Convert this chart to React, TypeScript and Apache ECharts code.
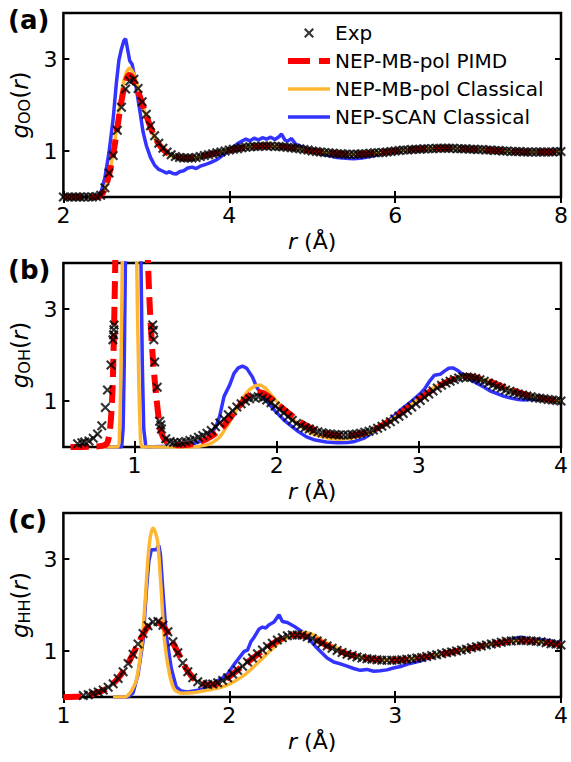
import React, { useEffect, useRef } from "react";
import * as echarts from "echarts";

const FONT = '"DejaVu Sans", "Liberation Sans", sans-serif';
const NAMES = ["Exp", "NEP-MB-pol PIMD", "NEP-MB-pol Classical", "NEP-SCAN Classical"];
const RED = "#ff0000";
const ORANGE = "#ffb733";
const BLUE = "#3333ff";
const CROSS = "path://M0,1.5L1.5,0L5,3.5L8.5,0L10,1.5L6.5,5L10,8.5L8.5,10L5,6.5L1.5,10L0,8.5L3.5,5Z";
const ICON_DASH = "path://M0,0h22v6h-22zM31,0h11v6h-11z";
const ICON_SOLID = "path://M0,0h42v3.5h-42z";

type P = [number, number][];

// ---------- Panel (a): g_OO ----------
const expOOStart = 2.0;
const expOOStep = 0.05;
const expOO = [
  0, 0, 0, 0, 0, 0, 0, 0, 0.01, 0.04,
  0.2, 0.52, 0.9, 1.45, 1.95, 2.35, 2.52, 2.56, 2.36, 2.07,
  1.8, 1.55, 1.33, 1.17, 1.06, 0.98, 0.92, 0.88, 0.86, 0.85,
  0.85, 0.85, 0.86, 0.88, 0.9, 0.92, 0.94, 0.96, 0.98, 1.0,
  1.02, 1.04, 1.05, 1.07, 1.08, 1.09, 1.1, 1.1, 1.11, 1.11,
  1.11, 1.1, 1.1, 1.09, 1.08, 1.07, 1.06, 1.05, 1.03, 1.02,
  1.0, 0.99, 0.98, 0.97, 0.96, 0.95, 0.94, 0.94, 0.93, 0.93,
  0.93, 0.93, 0.94, 0.94, 0.95, 0.96, 0.96, 0.97, 0.98, 0.99,
  1.0, 1.01, 1.02, 1.02, 1.03, 1.04, 1.04, 1.05, 1.05, 1.05,
  1.06, 1.06, 1.06, 1.06, 1.06, 1.05, 1.05, 1.05, 1.04, 1.04,
  1.03, 1.03, 1.02, 1.02, 1.01, 1.01, 1.0, 1.0, 0.99, 0.99,
  0.99, 0.98, 0.98, 0.98, 0.98, 0.98, 0.98, 0.98, 0.98, 0.99,
  0.99,
];
const pimdOO: P = [
  [2.0, 0], [2.4, 0], [2.45, 0.03], [2.5, 0.17], [2.55, 0.48], [2.6, 0.92], [2.65, 1.5], [2.7, 2.08],
  [2.75, 2.5], [2.79, 2.65], [2.83, 2.6], [2.87, 2.44], [2.9, 2.3], [2.95, 2.03], [3.0, 1.77], [3.05, 1.52],
  [3.1, 1.31], [3.15, 1.15], [3.2, 1.04], [3.25, 0.96], [3.3, 0.91], [3.4, 0.86], [3.5, 0.85], [3.6, 0.86],
  [3.7, 0.9], [3.8, 0.94], [3.9, 0.98], [4.0, 1.02], [4.2, 1.08], [4.4, 1.11], [4.6, 1.1], [4.8, 1.06],
  [5.0, 1.0], [5.2, 0.96], [5.4, 0.93], [5.6, 0.93], [5.8, 0.96], [6.0, 1.0], [6.2, 1.03], [6.4, 1.05],
  [6.6, 1.06], [6.8, 1.05], [7.0, 1.03], [7.2, 1.01], [7.4, 0.99], [7.6, 0.98], [7.8, 0.98], [8.0, 0.99],
];
const clsOO: P = [
  [2.3, 0], [2.4, 0], [2.45, 0.03], [2.5, 0.16], [2.55, 0.48], [2.6, 0.95], [2.65, 1.6], [2.7, 2.25],
  [2.75, 2.66], [2.8, 2.8], [2.84, 2.7], [2.88, 2.5], [2.92, 2.25], [2.96, 1.98], [3.0, 1.75], [3.05, 1.49],
  [3.1, 1.28], [3.15, 1.12], [3.2, 1.01], [3.25, 0.94], [3.3, 0.89], [3.4, 0.84], [3.5, 0.83], [3.6, 0.85],
  [3.7, 0.89], [3.8, 0.94], [3.9, 0.98], [4.0, 1.02], [4.2, 1.08], [4.4, 1.11], [4.6, 1.1], [4.8, 1.06],
  [5.0, 1.0], [5.2, 0.96], [5.4, 0.93], [5.6, 0.93], [5.8, 0.96], [6.0, 1.0], [6.2, 1.03], [6.4, 1.05],
  [6.6, 1.06], [6.8, 1.05], [7.0, 1.03], [7.2, 1.01], [7.4, 0.99], [7.6, 0.98], [7.8, 0.98], [8.0, 0.99],
];
const scanOO: P = [
  [2.3, 0], [2.38, 0], [2.42, 0.03], [2.46, 0.14], [2.5, 0.42], [2.55, 0.97], [2.6, 1.7], [2.64, 2.5],
  [2.67, 2.98], [2.7, 3.22], [2.73, 3.4], [2.75, 3.44], [2.77, 3.25], [2.8, 2.96], [2.83, 2.88], [2.86, 2.58],
  [2.9, 2.12], [2.93, 1.78], [2.96, 1.42], [3.0, 1.12], [3.05, 0.86], [3.1, 0.69], [3.15, 0.6], [3.2, 0.56],
  [3.24, 0.52], [3.28, 0.55], [3.32, 0.51], [3.36, 0.5], [3.4, 0.55], [3.45, 0.57], [3.5, 0.63], [3.55, 0.65],
  [3.6, 0.62], [3.65, 0.67], [3.7, 0.7], [3.75, 0.73], [3.8, 0.77], [3.85, 0.81], [3.9, 0.88], [3.95, 0.95],
  [4.0, 1.01], [4.05, 1.08], [4.1, 1.16], [4.15, 1.21], [4.2, 1.26], [4.25, 1.22], [4.3, 1.28], [4.35, 1.24],
  [4.4, 1.29], [4.45, 1.26], [4.5, 1.3], [4.55, 1.25], [4.6, 1.31], [4.63, 1.37], [4.67, 1.24], [4.7, 1.21],
  [4.75, 1.27], [4.8, 1.15], [4.9, 1.07], [5.0, 1.0], [5.1, 0.94], [5.2, 0.9], [5.3, 0.86], [5.4, 0.84],
  [5.5, 0.83], [5.6, 0.85], [5.7, 0.88], [5.8, 0.93], [5.9, 0.97], [6.0, 1.0], [6.2, 1.03], [6.4, 1.05],
  [6.6, 1.06], [6.8, 1.05], [7.0, 1.03], [7.2, 1.01], [7.4, 0.99], [7.6, 0.98], [7.8, 0.98], [8.0, 0.99],
];

// ---------- Panel (b): g_OH ----------
const expOHPeak: P = [
  [0.6, 0.07], [0.63, 0.09], [0.65, 0.11], [0.68, 0.13], [0.71, 0.19], [0.74, 0.28], [0.77, 0.46],
  [0.795, 0.86], [0.81, 1.24], [0.835, 1.78], [0.848, 2.33], [0.853, 2.44], [0.855, 2.55], [0.857, 2.65],
  [1.128, 2.65], [1.133, 2.54], [1.136, 2.33], [1.142, 1.85], [1.16, 1.3], [1.177, 0.56], [1.185, 0.48],
  [1.19, 0.39], [1.22, 0.18], [1.25, 0.12], [1.275, 0.1],
];
const expOHStart = 1.3;
const expOHStep = 0.03;
const expOH = [
  0.09, 0.1, 0.12, 0.14, 0.17, 0.21, 0.25, 0.3, 0.36, 0.44,
  0.52, 0.61, 0.7, 0.79, 0.87, 0.94, 1.0, 1.05, 1.08, 1.09,
  1.06, 1.02, 0.96, 0.89, 0.81, 0.74, 0.66, 0.58, 0.51, 0.46,
  0.42, 0.39, 0.36, 0.33, 0.31, 0.29, 0.28, 0.27, 0.26, 0.26,
  0.26, 0.27, 0.28, 0.3, 0.32, 0.34, 0.37, 0.41, 0.45, 0.5,
  0.55, 0.61, 0.67, 0.73, 0.8, 0.87, 0.94, 1.01, 1.08, 1.15,
  1.22, 1.28, 1.34, 1.39, 1.43, 1.47, 1.5, 1.52, 1.52, 1.51,
  1.49, 1.46, 1.43, 1.39, 1.35, 1.31, 1.28, 1.24, 1.21, 1.18,
  1.15, 1.13, 1.11, 1.09, 1.07, 1.06, 1.05, 1.03, 1.02, 1.01,
  1.0,
];
const pimdOH: P = [
  [0.55, 0], [0.7, 0.01], [0.78, 0.03], [0.81, 0.1], [0.83, 0.45], [0.845, 1.2], [0.855, 2.4], [0.862, 3.5],
  [0.87, 4.8], [0.9, 8], [0.98, 10], [1.05, 8], [1.08, 5.4], [1.095, 4.0], [1.11, 2.9], [1.13, 1.9],
  [1.155, 1.05], [1.18, 0.42], [1.2, 0.22], [1.23, 0.1], [1.27, 0.05], [1.3, 0.04], [1.4, 0.06], [1.5, 0.16],
  [1.6, 0.37], [1.7, 0.74], [1.75, 0.94], [1.8, 1.1], [1.85, 1.2], [1.9, 1.18], [1.95, 1.08], [2.0, 0.95],
  [2.1, 0.7], [2.2, 0.48], [2.3, 0.33], [2.4, 0.26], [2.5, 0.25], [2.6, 0.29], [2.7, 0.4], [2.8, 0.58],
  [2.9, 0.8], [3.0, 1.03], [3.1, 1.25], [3.2, 1.42], [3.3, 1.52], [3.35, 1.53], [3.4, 1.51], [3.5, 1.42],
  [3.6, 1.3], [3.7, 1.19], [3.8, 1.1], [3.9, 1.04], [4.0, 1.0],
];
const clsOH: P = [
  [0.8, 0], [0.88, 0], [0.895, 0.4], [0.905, 1.8], [0.915, 4.2], [0.94, 12], [0.965, 18], [0.99, 12],
  [1.015, 4.2], [1.028, 1.8], [1.04, 0.4], [1.055, 0], [1.4, 0], [1.5, 0.04], [1.55, 0.1], [1.6, 0.22],
  [1.65, 0.45], [1.7, 0.72], [1.75, 1.0], [1.8, 1.22], [1.85, 1.33], [1.88, 1.35], [1.92, 1.28], [1.96, 1.14],
  [2.0, 0.99], [2.06, 0.78], [2.1, 0.65], [2.15, 0.5], [2.2, 0.38], [2.27, 0.27], [2.35, 0.2], [2.43, 0.17],
  [2.5, 0.18], [2.57, 0.22], [2.65, 0.3], [2.7, 0.37], [2.8, 0.57], [2.9, 0.8], [3.0, 1.05], [3.1, 1.28],
  [3.2, 1.45], [3.3, 1.54], [3.35, 1.55], [3.4, 1.52], [3.5, 1.42], [3.6, 1.3], [3.7, 1.19], [3.8, 1.1],
  [3.9, 1.04], [4.0, 1.0],
];
const scanOH: P = [
  [0.8, 0], [0.91, 0], [0.92, 0.4], [0.928, 1.8], [0.937, 4.2], [0.96, 12], [0.99, 18], [1.02, 12],
  [1.045, 4.2], [1.055, 1.8], [1.065, 0.4], [1.08, 0], [1.3, 0.02], [1.4, 0.06], [1.5, 0.16], [1.55, 0.33],
  [1.58, 0.5], [1.6, 0.68], [1.63, 1.1], [1.67, 1.35], [1.7, 1.6], [1.73, 1.72], [1.76, 1.76], [1.79, 1.71],
  [1.83, 1.52], [1.86, 1.3], [1.91, 1.07], [1.99, 0.78], [2.06, 0.56], [2.15, 0.34], [2.21, 0.22], [2.27, 0.15],
  [2.35, 0.11], [2.43, 0.09], [2.5, 0.1], [2.55, 0.12], [2.62, 0.2], [2.69, 0.34], [2.78, 0.56], [2.87, 0.8],
  [2.95, 1.0], [3.01, 1.16], [3.04, 1.26], [3.08, 1.45], [3.11, 1.56], [3.15, 1.58], [3.18, 1.65], [3.21, 1.71],
  [3.24, 1.72], [3.27, 1.67], [3.32, 1.55], [3.36, 1.47], [3.4, 1.4], [3.46, 1.3], [3.5, 1.22], [3.55, 1.16],
  [3.6, 1.1], [3.64, 1.07], [3.7, 1.03], [3.74, 1.02], [3.8, 1.04], [3.9, 1.03], [4.0, 1.0],
];

// ---------- Panel (c): g_HH ----------
const expHHStart = 1.12;
const expHHStep = 0.03;
const expHH = [
  0.03, 0.05, 0.08, 0.11, 0.15, 0.21, 0.29, 0.4, 0.55, 0.73,
  0.93, 1.15, 1.38, 1.55, 1.63, 1.64, 1.56, 1.42, 1.2, 0.96,
  0.74, 0.55, 0.42, 0.33, 0.28, 0.27, 0.28, 0.31, 0.36, 0.42,
  0.5, 0.58, 0.67, 0.76, 0.85, 0.94, 1.02, 1.1, 1.17, 1.24,
  1.29, 1.33, 1.35, 1.35, 1.34, 1.31, 1.27, 1.22, 1.17, 1.11,
  1.06, 1.01, 0.97, 0.93, 0.9, 0.87, 0.85, 0.83, 0.82, 0.81,
  0.8, 0.8, 0.8, 0.8, 0.81, 0.82, 0.83, 0.85, 0.86, 0.88,
  0.9, 0.92, 0.94, 0.96, 0.98, 1.0, 1.02, 1.04, 1.07, 1.09,
  1.11, 1.13, 1.15, 1.17, 1.19, 1.21, 1.22, 1.23, 1.23, 1.23,
  1.22, 1.21, 1.2, 1.18, 1.16, 1.15, 1.13,
];
const pimdHH: P = [
  [1.0, 0], [1.1, 0.01], [1.15, 0.04], [1.2, 0.09], [1.25, 0.16], [1.3, 0.29], [1.35, 0.5], [1.4, 0.8],
  [1.45, 1.15], [1.5, 1.48], [1.53, 1.6], [1.56, 1.63], [1.59, 1.58], [1.62, 1.45], [1.66, 1.18], [1.7, 0.9],
  [1.75, 0.56], [1.8, 0.36], [1.85, 0.28], [1.9, 0.27], [1.95, 0.32], [2.0, 0.44], [2.1, 0.73], [2.2, 1.0],
  [2.3, 1.24], [2.4, 1.35], [2.5, 1.28], [2.6, 1.1], [2.7, 0.95], [2.8, 0.86], [2.9, 0.81], [3.0, 0.8],
  [3.2, 0.88], [3.4, 1.02], [3.6, 1.16], [3.75, 1.23], [3.9, 1.19], [4.0, 1.13],
];
const clsHH: P = [
  [1.3, 0], [1.37, 0], [1.4, 0.08], [1.42, 0.2], [1.44, 0.36], [1.47, 1.07], [1.49, 1.93], [1.51, 3.02],
  [1.525, 3.5], [1.54, 3.67], [1.552, 3.6], [1.569, 3.36], [1.59, 2.3], [1.61, 1.21], [1.64, 0.49], [1.67, 0.16],
  [1.72, 0.08], [1.78, 0.09], [1.84, 0.13], [1.9, 0.17], [1.98, 0.25], [2.04, 0.36], [2.1, 0.5], [2.2, 0.84],
  [2.3, 1.18], [2.4, 1.37], [2.45, 1.4], [2.5, 1.36], [2.6, 1.15], [2.7, 0.98], [2.8, 0.87], [2.9, 0.82],
  [3.0, 0.8], [3.2, 0.88], [3.4, 1.02], [3.6, 1.16], [3.75, 1.23], [3.9, 1.19], [4.0, 1.13],
];
const scanHH: P = [
  [1.3, 0], [1.39, 0], [1.42, 0.09], [1.45, 0.49], [1.48, 1.21], [1.5, 2.3], [1.515, 2.95], [1.53, 3.2],
  [1.56, 3.2], [1.575, 3.3], [1.585, 3.1], [1.6, 2.3], [1.62, 1.35], [1.65, 0.63], [1.68, 0.22], [1.71, 0.13],
  [1.75, 0.11], [1.82, 0.15], [1.87, 0.22], [1.92, 0.33], [1.96, 0.42], [1.99, 0.5], [2.02, 0.66], [2.04, 0.76],
  [2.07, 0.9], [2.09, 0.99], [2.11, 1.02], [2.13, 1.2], [2.15, 1.3], [2.18, 1.48], [2.2, 1.52], [2.22, 1.5],
  [2.24, 1.57], [2.27, 1.63], [2.3, 1.79], [2.32, 1.64], [2.35, 1.62], [2.39, 1.54], [2.43, 1.44], [2.46, 1.36],
  [2.49, 1.22], [2.52, 1.1], [2.55, 0.99], [2.59, 0.85], [2.63, 0.76], [2.67, 0.72], [2.71, 0.67], [2.75, 0.62],
  [2.79, 0.58], [2.83, 0.6], [2.87, 0.56], [2.91, 0.57], [2.95, 0.59], [2.99, 0.63], [3.04, 0.67], [3.09, 0.73],
  [3.15, 0.78], [3.2, 0.85], [3.25, 0.9], [3.3, 0.95], [3.4, 1.02], [3.49, 1.09], [3.55, 1.12], [3.6, 1.17],
  [3.65, 1.2], [3.69, 1.24], [3.73, 1.28], [3.76, 1.3], [3.8, 1.26], [3.85, 1.25], [3.9, 1.24], [3.95, 1.21],
  [4.0, 1.17],
];

// tick values
const yTicks = [1, 3];
const xTicksA = [2, 4, 6, 8];
const xTicksB = [1, 2, 3, 4];
const xTicksC = [1, 2, 3, 4];

const onGrid = (start: number, step: number, vals: number[]): P =>
  vals.map((v, i) => [+(start + i * step).toFixed(3), v] as [number, number]);

const panels = [
  {
    label: "(a)", sub: "OO", top: 13, xmin: 2, xmax: 8, xticks: xTicksA,
    exp: onGrid(expOOStart, expOOStep, expOO), pimd: pimdOO, cls: clsOO, scan: scanOO,
  },
  {
    label: "(b)", sub: "OH", top: 263, xmin: 0.5, xmax: 4, xticks: xTicksB,
    exp: [...expOHPeak, ...onGrid(expOHStart, expOHStep, expOH)], pimd: pimdOH, cls: clsOH, scan: scanOH,
  },
  {
    label: "(c)", sub: "HH", top: 513, xmin: 1, xmax: 4, xticks: xTicksC,
    exp: onGrid(expHHStart, expHHStep, expHH), pimd: pimdHH, cls: clsHH, scan: scanHH,
  },
];

const GRID_LEFT = 63;
const GRID_W = 502;
const GRID_H = 184;

const tickStyle = (vals: number[]) => ({
  show: true, inside: true, length: 6, customValues: vals,
  lineStyle: { color: "#000", width: 2 },
});

function buildOption() {
  const grid: any[] = [];
  const xAxis: any[] = [];
  const yAxis: any[] = [];
  const series: any[] = [];
  const graphic: any[] = [];

  panels.forEach((p, i) => {
    grid.push({
      left: GRID_LEFT, top: p.top, width: GRID_W, height: GRID_H,
      show: true, borderColor: "#000", borderWidth: 2.5, backgroundColor: "transparent",
    });
    xAxis.push({
      type: "value", gridIndex: i, min: p.xmin, max: p.xmax, position: "bottom",
      axisLine: { show: false }, splitLine: { show: false },
      axisTick: tickStyle(p.xticks),
      axisLabel: { customValues: p.xticks, fontSize: 22, fontFamily: FONT, color: "#000", margin: 7 },
      name: "{i|r}{n| (Å)}", nameLocation: "middle", nameGap: 33,
      nameTextStyle: {
        rich: {
          i: { fontStyle: "italic", fontSize: 22, fontFamily: FONT, color: "#000" },
          n: { fontSize: 22, fontFamily: FONT, color: "#000" },
        },
      },
    });
    xAxis.push({
      type: "value", gridIndex: i, min: p.xmin, max: p.xmax, position: "top",
      axisLine: { show: false }, splitLine: { show: false },
      axisTick: tickStyle(p.xticks), axisLabel: { show: false },
    });
    yAxis.push({
      type: "value", gridIndex: i, min: 0, max: 4, position: "left",
      axisLine: { show: false }, splitLine: { show: false },
      axisTick: tickStyle(yTicks),
      axisLabel: { customValues: yTicks, fontSize: 22, fontFamily: FONT, color: "#000", margin: 6 },
      name: `{i|g}{s|${p.sub}}{n|(}{i|r}{n|)}`, nameLocation: "middle", nameGap: 24, nameRotate: 90,
      nameTextStyle: {
        rich: {
          i: { fontStyle: "italic", fontSize: 23, fontFamily: FONT, color: "#000", lineHeight: 26, verticalAlign: "middle" },
          n: { fontSize: 23, fontFamily: FONT, color: "#000", lineHeight: 26, verticalAlign: "middle" },
          s: { fontSize: 16, fontFamily: FONT, color: "#000", lineHeight: 16, verticalAlign: "bottom" },
        },
      },
    });
    yAxis.push({
      type: "value", gridIndex: i, min: 0, max: 4, position: "right",
      axisLine: { show: false }, splitLine: { show: false },
      axisTick: tickStyle(yTicks), axisLabel: { show: false },
    });

    const xi = i * 2;
    const yi = i * 2;
    series.push({
      name: NAMES[3], type: "line", xAxisIndex: xi, yAxisIndex: yi, data: p.scan,
      symbol: "none", showSymbol: false, smooth: false, clip: true,
      lineStyle: { color: BLUE, width: 3.5 }, itemStyle: { color: BLUE }, z: 2,
    });
    series.push({
      name: NAMES[2], type: "line", xAxisIndex: xi, yAxisIndex: yi, data: p.cls,
      symbol: "none", showSymbol: false, smooth: 0.3, clip: true,
      lineStyle: { color: ORANGE, width: 3.5 }, itemStyle: { color: ORANGE }, z: 3,
    });
    series.push({
      name: NAMES[1], type: "line", xAxisIndex: xi, yAxisIndex: yi, data: p.pimd,
      symbol: "none", showSymbol: false, smooth: 0.3, clip: true,
      lineStyle: { color: RED, width: 6, type: [18, 8] }, itemStyle: { color: RED }, z: 4,
    });
    series.push({
      name: NAMES[0], type: "scatter", xAxisIndex: xi, yAxisIndex: yi, data: p.exp,
      symbol: CROSS, symbolSize: 10, symbolKeepAspect: true, clip: true,
      itemStyle: { color: "#000" }, z: 5,
    });

    graphic.push({
      type: "text", left: 8, top: p.top - 6,
      style: { text: p.label, fontSize: 26, fontWeight: "bold", fontFamily: FONT, fill: "#000" },
    });
  });

  return {
    animation: false,
    backgroundColor: "#fff",
    grid, xAxis, yAxis, series, graphic,
    legend: {
      show: true, orient: "vertical", left: 283, top: 18,
      itemWidth: 42, itemHeight: 10, itemGap: 8, selectedMode: false, symbolKeepAspect: true,
      data: [
        { name: NAMES[0], icon: CROSS },
        { name: NAMES[1], icon: ICON_DASH },
        { name: NAMES[2], icon: ICON_SOLID },
        { name: NAMES[3], icon: ICON_SOLID },
      ],
      textStyle: { fontFamily: FONT, fontSize: 20, color: "#000", padding: [0, 0, 0, 0] },
    },
  };
}

export default function App() {
  const ref = useRef<HTMLDivElement>(null);
  useEffect(() => {
    document.body.style.margin = "0";
    const chart = echarts.init(ref.current!, null, { renderer: "svg" });
    chart.setOption(buildOption() as any);
    return () => chart.dispose();
  }, []);
  return <div ref={ref} style={{ width: 571, height: 762 }} />;
}
